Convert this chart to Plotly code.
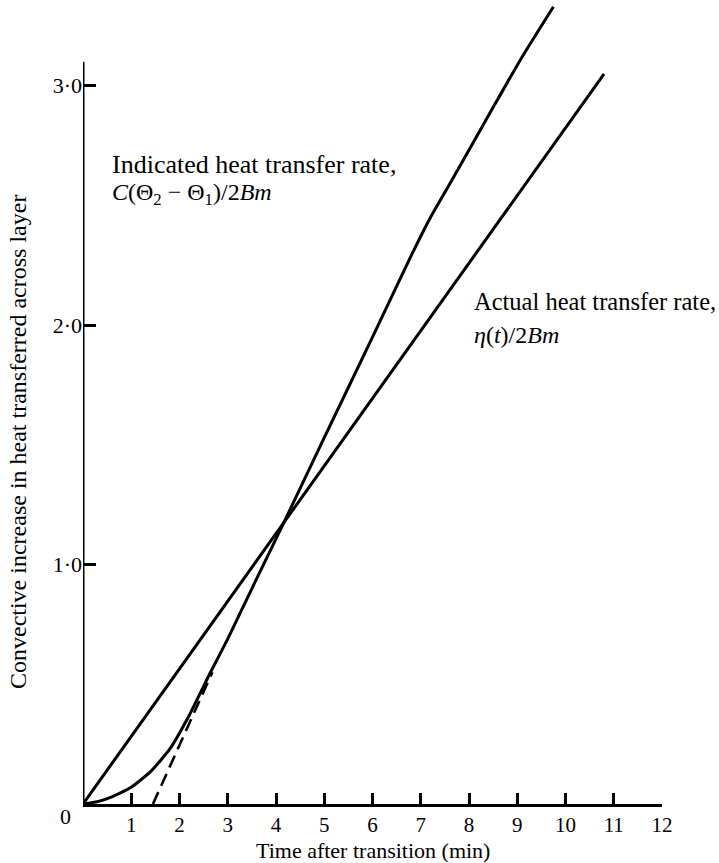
import plotly.graph_objects as go

# Data
actual_t = [0.0, 10.8]
actual_q = [0.0, 3.05]

indicated_t = [0.0, 0.3, 0.6, 1.0, 1.4, 1.8, 2.2, 2.63, 3.0, 3.5, 4.15, 5.0, 6.0, 6.8, 7.2, 7.6, 8.5, 9.1, 9.75]
indicated_q = [0.0, 0.01, 0.03, 0.07, 0.135, 0.23, 0.37, 0.545, 0.69, 0.9, 1.17, 1.53, 1.95, 2.29, 2.45, 2.59, 2.91, 3.12, 3.33]

tangent_t = [1.45, 2.68]
tangent_q = [0.0, 0.55]

x_ticks = list(range(1, 13))
x_ticktext = [str(v) for v in x_ticks]
y_ticks = [1, 2, 3]
y_ticktext = ["1·0", "2·0", "3·0"]
y_axis_top = 3.1

FONT = "Liberation Serif"

fig = go.Figure()
fig.add_trace(go.Scatter(x=actual_t, y=actual_q, mode="lines",
                         line=dict(color="black", width=3), hoverinfo="skip"))
fig.add_trace(go.Scatter(x=indicated_t, y=indicated_q, mode="lines",
                         line=dict(color="black", width=3, shape="spline", smoothing=0.5),
                         hoverinfo="skip"))
fig.add_trace(go.Scatter(x=tangent_t, y=tangent_q, mode="lines",
                         line=dict(color="black", width=2.6, dash="13px,7px"), hoverinfo="skip"))

fig.update_layout(
    width=719, height=863,
    margin=dict(l=83, r=57, t=2, b=59),
    paper_bgcolor="white", plot_bgcolor="white",
    showlegend=False,
    font=dict(family=FONT, color="black", size=19),
    xaxis=dict(range=[0, 12], showgrid=False, zeroline=False,
               showline=True, linecolor="black", linewidth=3,
               tickmode="array", tickvals=x_ticks, ticktext=x_ticktext,
               ticks="inside", ticklen=11, tickwidth=3, tickcolor="black",
               tickfont=dict(family=FONT, size=21), fixedrange=True),
    yaxis=dict(range=[0, 3.35], showgrid=False, zeroline=False,
               showline=False,
               tickmode="array", tickvals=y_ticks, ticktext=y_ticktext,
               ticks="inside", ticklen=13, tickwidth=3, tickcolor="black",
               tickfont=dict(family=FONT, size=22), fixedrange=True),
    shapes=[dict(type="line", xref="x", yref="y", x0=0, x1=0, y0=0, y1=y_axis_top,
                 line=dict(color="black", width=3))],
)

annotations = [
    dict(text="0", x=-0.031, y=-0.016, xref="paper", yref="paper",
         xanchor="center", yanchor="middle", showarrow=False,
         font=dict(family=FONT, size=22)),
    dict(text="Time after transition (min)", x=0.5, y=-0.058, xref="paper", yref="paper",
         xanchor="center", yanchor="middle", showarrow=False,
         font=dict(family=FONT, size=22)),
    dict(text="Convective increase in heat transferred across layer",
         x=-0.111, y=0.451, xref="paper", yref="paper", textangle=-90,
         xanchor="center", yanchor="middle", showarrow=False,
         font=dict(family=FONT, size=24)),
    dict(text="Indicated heat transfer rate,", x=0.56, y=2.67,
         xanchor="left", yanchor="middle", showarrow=False,
         font=dict(family=FONT, size=26)),
    dict(text="<i>C</i>(Θ<sub>2</sub> − Θ<sub>1</sub>)/2<i>Bm</i>", x=0.56, y=2.55,
         xanchor="left", yanchor="middle", showarrow=False,
         font=dict(family=FONT, size=24)),
    dict(text="Actual heat transfer rate,", x=8.06, y=2.1,
         xanchor="left", yanchor="middle", showarrow=False,
         font=dict(family=FONT, size=24.5)),
    dict(text="<i>η</i>(<i>t</i>)/2<i>Bm</i>", x=8.06, y=1.96,
         xanchor="left", yanchor="middle", showarrow=False,
         font=dict(family=FONT, size=24)),
]
fig.update_layout(annotations=annotations)

fig.write_html("out.html")
